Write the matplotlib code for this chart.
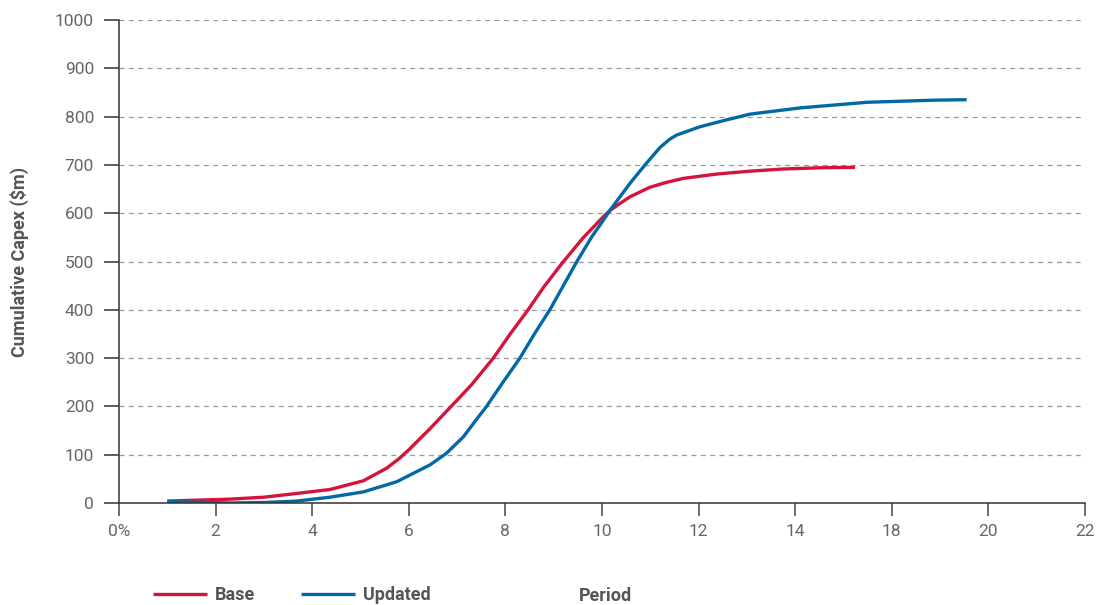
import matplotlib

matplotlib.use('Agg')
from matplotlib import pyplot as plt

plt.rcParams['font.family'] = ['Roboto', 'DejaVu Sans']

# Values (x in axis-position units)
base_x = [1.0, 2.3, 3.0, 3.7, 4.37, 5.06, 5.54, 5.8, 6.0, 6.44, 7.0, 7.3, 7.75, 8.1,
          8.47, 8.8, 9.17, 9.6, 10.03, 10.17, 10.37, 10.58, 10.99, 11.3, 11.68, 12.37,
          13.06, 13.75, 14.5, 15.24]
base_y = [4, 8, 12, 20, 28, 46, 72, 92, 110, 154, 213, 245, 300, 350,
          400, 448, 496, 548, 593, 606, 620, 634, 653.6, 663, 672, 681,
          687, 691.5, 694, 695]

updated_x = [1.0, 2.3, 3.0, 3.68, 4.37, 5.06, 5.75, 6.44, 6.78, 7.13, 7.47, 7.61, 7.95,
             8.3, 8.6, 8.92, 9.2, 9.48, 9.8, 9.96, 10.17, 10.58, 10.89, 11.2, 11.4,
             11.55, 12.03, 12.51, 13.06, 14.1, 15.48, 16.86, 17.55]
updated_y = [3, 0, 1, 4, 12, 23, 44, 79, 103, 137, 182, 200, 250,
             300, 350, 400, 450, 500, 553, 575.6, 606.6, 662, 700, 736, 753,
             762, 779, 791.5, 805, 818, 829.6, 834, 835]

x_ticks = [0, 2, 4, 6, 8, 10, 12, 14, 16, 18, 20]
x_tick_labels = ['0%', '2', '4', '6', '8', '10', '12', '14', '18', '20', '22']
y_ticks = [0, 100, 200, 300, 400, 500, 600, 700, 800, 900, 1000]

red = '#D4143C'
blue = '#0069A6'
text_gray = '#666666'
label_gray = '#555555'

fig = plt.figure(figsize=(11.02, 6.05), dpi=100)
ax = fig.add_axes([119 / 1102, 1 - 503 / 605, (1085 - 119) / 1102, (503 - 20) / 605])

ax.plot(base_x, base_y, color=red, linewidth=2.4, label='Base',
        solid_capstyle='butt', solid_joinstyle='round')
ax.plot(updated_x, updated_y, color=blue, linewidth=2.4, label='Updated',
        solid_capstyle='butt', solid_joinstyle='round')

ax.set_xlim(0, 20)
ax.set_ylim(0, 1000)
ax.set_xticks(x_ticks)
ax.set_xticklabels(x_tick_labels)
ax.set_yticks(y_ticks)

ax.grid(axis='y', color='#999999', linestyle=(0, (4, 3.5)), linewidth=0.9)
ax.set_axisbelow(True)

for s in ['top', 'right']:
  ax.spines[s].set_visible(False)
for s in ['left', 'bottom']:
  ax.spines[s].set_color('#333333')
  ax.spines[s].set_linewidth(1.1)

ax.tick_params(axis='y', length=11, width=1.1, color='#333333', pad=7,
               labelsize=12.5, labelcolor=text_gray)
ax.tick_params(axis='x', length=9, width=1.1, color='#444444', pad=6,
               labelsize=12.5, labelcolor=text_gray)

ax.set_ylabel('Cumulative Capex ($m)', fontsize=13, fontweight='bold', color=label_gray)
ax.yaxis.set_label_coords(-0.093, 0.5)

# x axis title sits on the legend row at the bottom
fig.text(605 / 1102, 1 - 596 / 605, 'Period', ha='center', va='center',
         fontsize=13, fontweight='bold', color=label_gray)

leg = fig.legend(loc='center left', bbox_to_anchor=(153 / 1102, 1 - 595 / 605), ncol=2,
                 frameon=False, borderpad=0, borderaxespad=0,
                 handlelength=3.0, handletextpad=0.45, columnspacing=2.5,
                 prop={'weight': 'bold', 'size': 13})
for t in leg.get_texts():
  t.set_color(label_gray)

plt.savefig('out.png', dpi=100)
